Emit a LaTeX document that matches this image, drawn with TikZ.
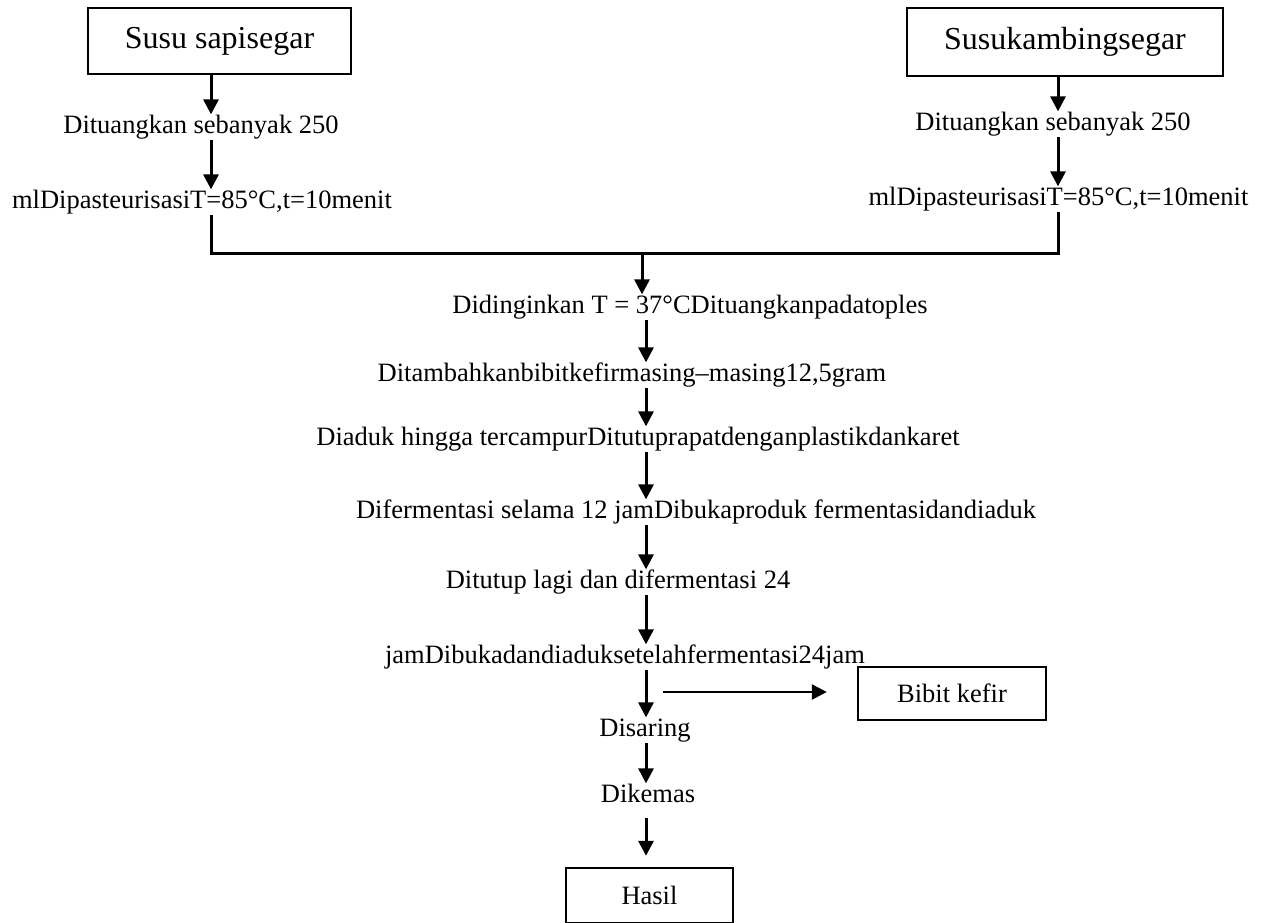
\documentclass[tikz,border=0pt]{standalone}
\usepackage{fontspec}
\setmainfont{Liberation Serif}
\usetikzlibrary{arrows.meta}

\begin{document}
\begin{tikzpicture}[x=0.5pt, y=-0.5pt,
    box node/.style={draw, line width=1.2pt, inner sep=0pt, font=\fontsize{13.25}{15}\selectfont},
    start node/.style={box node, font=\fontsize{16}{19}\selectfont},
    text node/.style={inner sep=0pt, text height=9.5pt, text depth=3pt, font=\fontsize{13.25}{15}\selectfont},
    flow/.style={line width=1.5pt, -{Triangle[length=7.5pt, width=7.5pt]}}]
    \useasboundingbox (0,0) rectangle (1263,922);

    \node[start node, minimum width=131.5pt, minimum height=33pt] (sapi) at (219.5,41) {Susu sapisegar};
    \node[start node, minimum width=158pt, minimum height=34pt] (kambing) at (1065,42) {Susukambingsegar};
    \node[text node] (sapi1) at (201,127.25) {Dituangkan sebanyak 250};
    \node[text node] (sapi2) at (202,202.25) {mlDipasteurisasiT=85°C,t=10menit};
    \node[text node] (kambing1) at (1053,124.25) {Dituangkan sebanyak 250};
    \node[text node] (kambing2) at (1058.5,199.25) {mlDipasteurisasiT=85°C,t=10menit};

    \node[text node] (dingin) at (690,307.25) {Didinginkan T = 37°CDituangkanpadatoples};
    \node[text node] (bibit) at (632,375.25) {Ditambahkanbibitkefirmasing–masing12,5gram};
    \node[text node] (aduk) at (638,439.25) {Diaduk hingga tercampurDitutuprapatdenganplastikdankaret};
    \node[text node] (fermen1) at (696,512.25) {Difermentasi selama 12 jamDibukaproduk fermentasidandiaduk};
    \node[text node] (fermen2) at (618,582.25) {Ditutup lagi dan difermentasi 24};
    \node[text node] (buka) at (625,657.25) {jamDibukadandiaduksetelahfermentasi24jam};
    \node[text node] (saring) at (645,730.25) {Disaring};
    \node[text node] (kemas) at (648,796.25) {Dikemas};
    \node[box node, minimum width=94pt, minimum height=26.5pt] (kefir) at (952,693.5) {Bibit kefir};
    \node[box node, minimum width=83.5pt, minimum height=27.5pt] (hasil) at (649.5,895.5) {Hasil};

    \coordinate (lcol) at (211,0);
    \coordinate (rcol) at (1058,0);
    \coordinate (ccol) at (646,0);
    \coordinate (merge) at (642,253);
    \coordinate (split) at (663,692);

    \draw[flow] (sapi.south -| lcol) -- (sapi1.north -| lcol);
    \draw[flow] (sapi1.south -| lcol) -- (sapi2.north -| lcol);
    \draw[flow] (kambing.south -| rcol) -- (kambing1.north -| rcol);
    \draw[flow] (kambing1.south -| rcol) -- (kambing2.north -| rcol);
    \draw[line width=1.5pt] (sapi2.south -| lcol) |- (merge) -| (kambing2.south -| rcol);
    \draw[flow] (merge) -- (dingin.north -| merge);
    \draw[flow] (dingin.south -| ccol) -- (bibit.north -| ccol);
    \draw[flow] (bibit.south -| ccol) -- (aduk.north -| ccol);
    \draw[flow] (aduk.south -| ccol) -- (fermen1.north -| ccol);
    \draw[flow] (fermen1.south -| ccol) -- (fermen2.north -| ccol);
    \draw[flow] (fermen2.south -| ccol) -- (buka.north -| ccol);
    \draw[flow] (buka.south -| ccol) -- (saring.north -| ccol);
    \draw[flow] (saring.south -| ccol) -- (kemas.north -| ccol);
    \draw[flow, shorten <=4.5pt, shorten >=5.5pt] (kemas.south -| ccol) -- (hasil.north -| ccol);
    \draw[flow, line width=1.2pt, shorten >=15pt] (split) -- (kefir.west |- split);
\end{tikzpicture}
\end{document}
